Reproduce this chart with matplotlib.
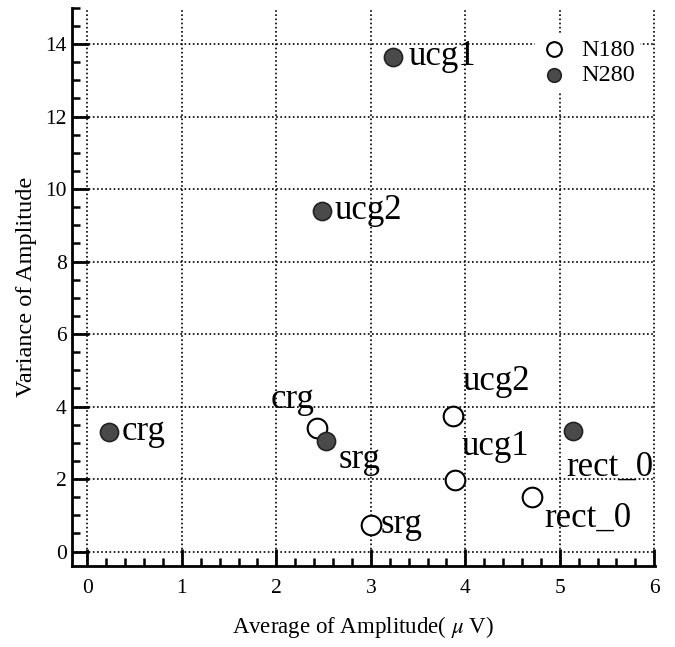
import matplotlib.pyplot as plt
from matplotlib.ticker import MultipleLocator

plt.rcParams['font.family'] = ['Liberation Serif', 'DejaVu Serif']
plt.rcParams['mathtext.fontset'] = 'stix'

# N180 (open circles)
n180_names = ["crg", "srg", "ucg1", "ucg2", "rect_0"]
n180_x = [2.43, 3.00, 3.89, 3.87, 4.71]
n180_y = [3.41, 0.74, 1.98, 3.74, 1.51]

# N280 (filled circles)
n280_names = ["crg", "srg", "ucg1", "ucg2", "rect_0"]
n280_x = [0.23, 2.53, 3.23, 2.48, 5.14]
n280_y = [3.30, 3.05, 13.65, 9.40, 3.32]

# label offsets in pixels (dx, dy, ha, va)
n180_off = [(-2, 20, "right", "baseline"), (10, 0, "left", "center"),
            (7, 25, "left", "baseline"), (10, 26, "left", "baseline"),
            (12, -30, "left", "baseline")]
n280_off = [(13, 0, "left", "center"), (12, -27, "left", "baseline"),
            (16, 0, "left", "center"), (13, 0, "left", "center"),
            (-7, -44, "left", "baseline")]

fig = plt.figure(figsize=(6.75, 6.47), dpi=100)
ax = fig.add_axes([0.107, 0.125, 0.863, 0.863])

ax.scatter(n180_x, n180_y, s=200, facecolors="white", edgecolors="black",
           linewidths=1.5, zorder=3, label="N180")
ax.scatter(n280_x, n280_y, s=170, facecolors="#4a4a4a", edgecolors="#222222",
           linewidths=1.2, zorder=3, label="N280")

for name, x, y, (dx, dy, ha, va) in zip(n180_names, n180_x, n180_y, n180_off):
    ax.annotate(name, (x, y), xytext=(dx, dy), textcoords="offset pixels",
                ha=ha, va=va, fontsize=25, zorder=4)
for name, x, y, (dx, dy, ha, va) in zip(n280_names, n280_x, n280_y, n280_off):
    ax.annotate(name, (x, y), xytext=(dx, dy), textcoords="offset pixels",
                ha=ha, va=va, fontsize=25, zorder=4)

ax.set_xlim(-0.16, 6.005)
ax.set_ylim(-0.4, 15)
ax.xaxis.set_major_locator(MultipleLocator(1))
ax.xaxis.set_minor_locator(MultipleLocator(0.2))
ax.yaxis.set_major_locator(MultipleLocator(2))
ax.yaxis.set_minor_locator(MultipleLocator(0.5))
ax.set_xticks(range(0, 7))
ax.set_yticks(range(0, 15, 2))

ax.grid(True, which="major", linestyle=(0, (1, 1.5)), color="black", linewidth=1.2)
ax.spines["top"].set_visible(False)
ax.spines["right"].set_visible(False)
ax.spines["left"].set_linewidth(2)
ax.spines["bottom"].set_linewidth(2)
ax.tick_params(which="major", direction="in", length=12, width=2, labelsize=15.5)
ax.tick_params(which="minor", direction="in", length=6, width=1.8)
ax.tick_params(axis="x", which="major", pad=9)
ax.tick_params(axis="y", which="major", pad=4)

ax.set_xlabel("Average of Amplitude( $\\mu$ V)", fontsize=16.5, labelpad=12)
ax.set_ylabel("Variance of Amplitude", fontsize=17.5, labelpad=6)

leg = ax.legend(loc="upper right", bbox_to_anchor=(0.995, 0.975), frameon=True,
                fontsize=17.5, handletextpad=0.5, borderpad=0.2,
                labelspacing=0.15, markerscale=0.75, handlelength=1.2)
leg.get_frame().set_edgecolor("none")
leg.get_frame().set_facecolor("white")
leg.get_frame().set_alpha(1)

fig.savefig("out.png", dpi=100)
